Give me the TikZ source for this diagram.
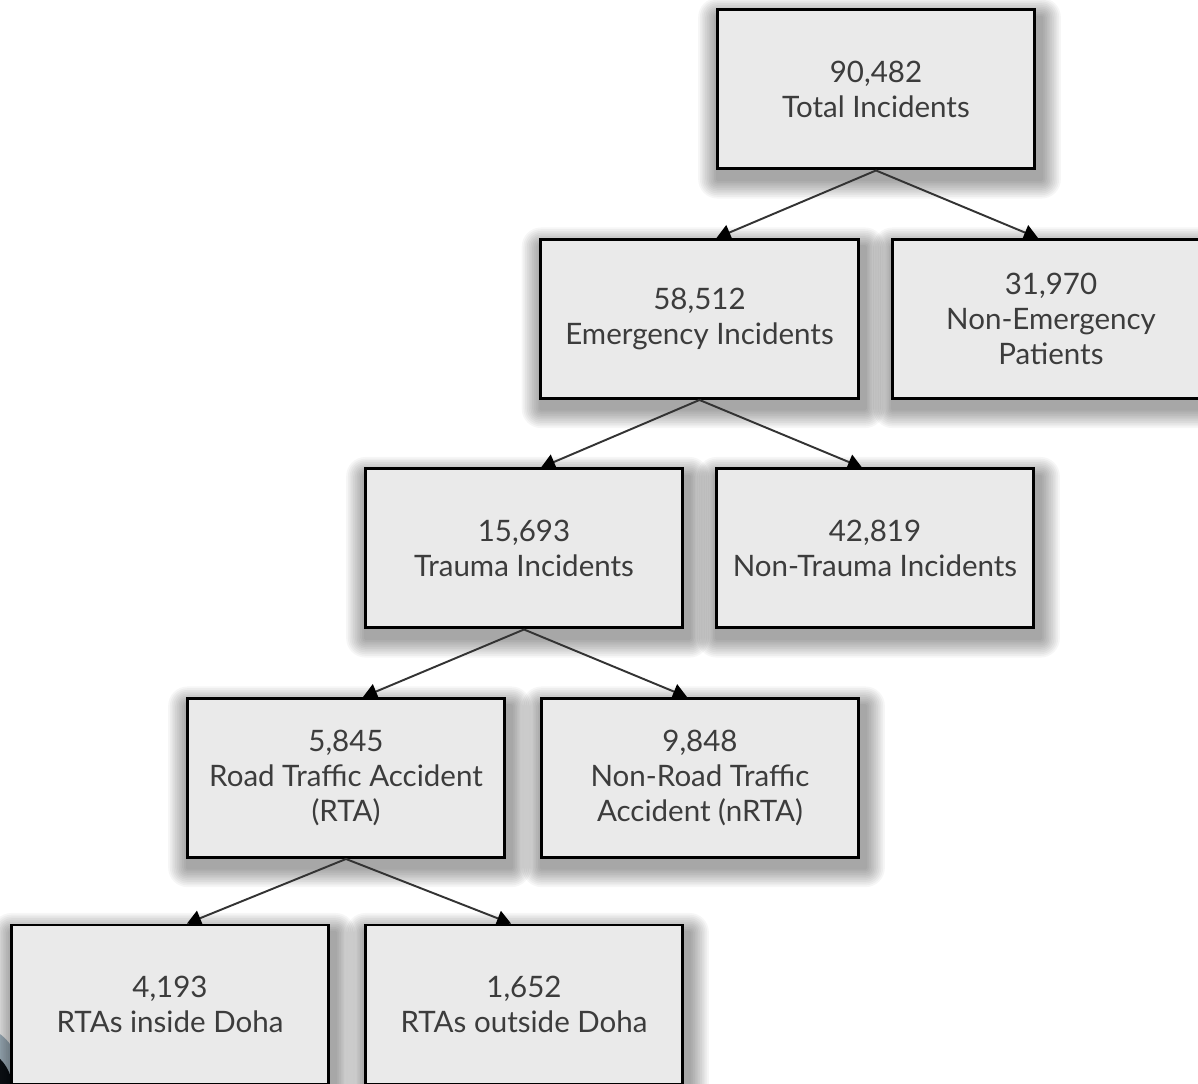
\documentclass[tikz,border=0pt]{standalone}
\usepackage{fontspec}
\setmainfont{Lato}
\usetikzlibrary{positioning,arrows.meta,backgrounds}
\definecolor{ibfill}{HTML}{EAEAEA}
\definecolor{ibtext}{HTML}{3C3C3C}
\definecolor{ibline}{HTML}{333333}
\definecolor{ibslate}{HTML}{A9BCC8}
\definecolor{ibdark}{HTML}{101418}
\tikzset{
  countbox/.style={draw=black,line width=1.7pt,fill=ibfill,text=ibtext,
    minimum width=6.35cm,minimum height=3.18cm,align=center,inner sep=2pt,
    font=\fontsize{16.8}{20}\selectfont},
  splitarrow/.style={draw=ibline,line width=1.1pt,-{Triangle[width=9pt,length=8pt,color=black]}},
  softshade/.style={fill=black,opacity=0.034},
}

\begin{document}
\begin{tikzpicture}
  \useasboundingbox (0,0) rectangle (23.96,21.68);
  \clip (0,0) rectangle (23.96,21.68);
  % ---------- boxes ----------
  \node[countbox] (total)     at (17.52,19.89) {90,482\\Total Incidents};
  \node[countbox] (emerg)     at (13.99,15.30) {58,512\\Emergency Incidents};
  \node[countbox] (nonemerg)  at (21.02,15.30) {31,970\\Non-Emergency\\Patients};
  \node[countbox] (trauma)    at (10.48,10.71) {15,693\\Trauma Incidents};
  \node[countbox] (nontrauma) at (17.50,10.71) {42,819\\Non-Trauma Incidents};
  \node[countbox] (rta)       at (6.92,6.12)   {5,845\\Road Traffic Accident\\(RTA)};
  \node[countbox] (nrta)      at (14.00,6.12)  {9,848\\Non-Road Traffic\\Accident (nRTA)};
  \node[countbox] (inside)    at (3.40,1.59)   {4,193\\RTAs inside Doha};
  \node[countbox] (outside)   at (10.48,1.59)  {1,652\\RTAs outside Doha};
  % ---------- splits ----------
  \foreach \src/\lft/\rgt in {total/emerg/nonemerg,emerg/trauma/nontrauma,
                              trauma/rta/nrta,rta/inside/outside}{
    \draw[splitarrow] (\src.south) -- ([xshift=0.34cm]\lft.north);
    \draw[splitarrow] (\src.south) -- ([xshift=-0.26cm]\rgt.north);}
  % ---------- canvas, blob and shadows ----------
  \begin{scope}[on background layer]
    \clip (0,0) rectangle (23.96,21.68);
    \fill[white] (0,0) rectangle (23.96,21.68);
    \fill[ibslate] (-0.6,0.2) circle (1.0);
    \fill[ibdark] (-0.6,-0.1) circle (0.85);
    \foreach \nd in {total,emerg,nonemerg,trauma,nontrauma,rta,nrta,inside,outside}{
      \foreach \r in {1,...,11}{
        \fill[softshade,rounded corners=\r pt]
          ([shift={(-\r pt+1pt,\r pt-5pt)}]\nd.north west) rectangle
          ([shift={(\r pt+3pt,-\r pt-5pt)}]\nd.south east);}}
  \end{scope}
\end{tikzpicture}
\end{document}
